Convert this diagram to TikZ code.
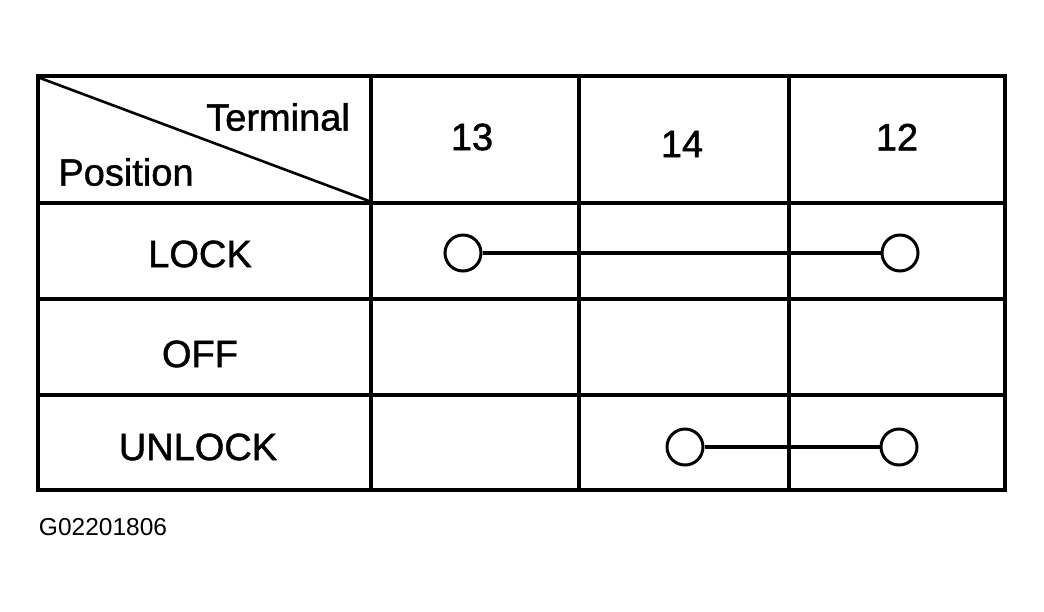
\documentclass[tikz,border=0pt]{standalone}
\usepackage{fontspec}
\setmainfont{Liberation Sans}
\newfontfamily\medfont{Liberation Sans}[BoldFont={Liberation Sans},BoldFeatures={FakeBold=1.2}]
\begin{document}
\begin{tikzpicture}[x=1pt,y=-1pt,
  lbl/.style={inner sep=0pt,font=\fontsize{38}{40}\medfont\bfseries},
  term/.style={circle,draw,line width=3pt,minimum size=36pt,inner sep=0pt,fill=white},
  grid/.style={line width=3.2pt}]
\useasboundingbox (0,0) rectangle (1044,611);
\draw[line width=3.6pt] (38,76) rectangle (1005,490);
\draw[grid] (371,76) -- (371,490);
\draw[grid] (579,76) -- (579,490);
\draw[grid] (789,76) -- (789,490);
\draw[grid] (38,203) -- (1005,203);
\draw[grid] (38,299) -- (1005,299);
\draw[grid] (38,395) -- (1005,395);
\draw[line width=2.6pt] (40,78) -- (369,201);
\node[lbl] (terminal) at (278,117) {Terminal};
\node[lbl] (position) at (126,172) {Position};
\node[lbl] (t13) at (472,137) {13};
\node[lbl] (t14) at (682,144) {14};
\node[lbl] (t12) at (897,137) {12};
\node[lbl] (lock) at (200,254) {LOCK};
\node[lbl] (off) at (200,354) {OFF};
\node[lbl] (unlock) at (198,447) {UNLOCK};
\node[inner sep=0pt,font=\fontsize{24.5}{26}\selectfont] (code) at (103,527) {G02201806};
\node[term] (l13) at (463,253) {};
\node[term] (l12) at (900,253) {};
\node[term] (u14) at (685,447) {};
\node[term] (u12) at (899,447) {};
\draw[line width=4.5pt] (l13) -- (l12);
\draw[line width=3.4pt] (u14) -- (u12);
\end{tikzpicture}
\end{document}
